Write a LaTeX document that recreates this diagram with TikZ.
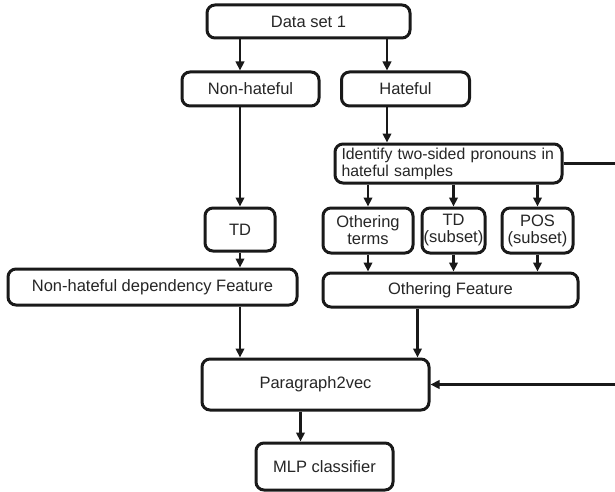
\documentclass[tikz,border=0pt]{standalone}
\usepackage{fontspec}
\setmainfont{Liberation Sans}
\usetikzlibrary{arrows.meta,calc}
\begin{document}
\begin{tikzpicture}[x=1pt,y=-1pt,
  box/.style={draw=black!90, line width=3pt, rounded corners=8pt, inner sep=0pt, align=center,
    font=\fontsize{16.5}{17}\selectfont, text=black!85},
  arr/.style={draw=black!90, line width=2.8pt, -{Triangle[length=9pt,width=8.5pt]}}]
\clip (0,0) rectangle (615,492);
\fill[white] (0,0) rectangle (615,492);
\node[box, minimum width=203, minimum height=33] (ds) at (308.5,21.5) {Data set 1};
\node[box, minimum width=137, minimum height=34] (nh) at (250.5,89) {Non-hateful};
\node[box, minimum width=128, minimum height=34] (hf) at (405.5,89) {Hateful};
\node[box, minimum width=227, minimum height=39, text width=214, align=left,
  font=\fontsize{15.8}{17}\selectfont] (id) at (448.5,163.5) {Identify two-sided pronouns in\\hateful samples};
\node[box, minimum width=90, minimum height=45] (ot) at (368,230.5) {Othering\\terms};
\node[box, minimum width=63, minimum height=45] (tds) at (453.5,230.5) {TD\\(subset)};
\node[box, minimum width=71, minimum height=45] (pos) at (537.5,230.5) {POS\\(subset)};
\node[box, minimum width=255, minimum height=34] (of) at (450.5,290) {Othering Feature};
\node[box, minimum width=70, minimum height=43] (td) at (240,229.5) {TD};
\node[box, minimum width=289, minimum height=36] (nhdf) at (152.5,287) {Non-hateful dependency Feature};
\node[box, minimum width=227, minimum height=51] (p2v) at (315.5,384.5) {Paragraph2vec};
\node[box, minimum width=137, minimum height=47] (mlp) at (324.5,466.5) {MLP classifier};
\coordinate (hx) at ($(hf.north west)+(47,0)$);
\coordinate (px) at ($(p2v.north east)+(-13,0)$);
\coordinate (mx) at ($(mlp.north west)+(46,0)$);
\coordinate (edge) at (640,270);
\draw[arr] (td |- ds.south) -- (td |- nh.north);
\draw[arr] (hx |- ds.south) -- (hx);
\draw[arr] (hx |- hf.south) -- (hx |- id.north);
\draw[arr] (td |- nh.south) -- (td.north);
\draw[arr] (td.south) -- (td |- nhdf.north);
\draw[arr] (td |- nhdf.south) -- (td |- p2v.north);
\draw[arr] (ot |- id.south) -- (ot.north);
\draw[arr] (tds |- id.south) -- (tds.north);
\draw[arr] (pos |- id.south) -- (pos.north);
\draw[arr] (ot.south) -- (ot |- of.north);
\draw[arr] (tds.south) -- (tds |- of.north);
\draw[arr] (pos.south) -- (pos |- of.north);
\draw[arr] (px |- of.south) -- (px);
\draw[arr] (mx |- p2v.south) -- (mx);
\draw[arr] (id.east) -| (edge) |- (p2v.east);
\end{tikzpicture}
\end{document}
